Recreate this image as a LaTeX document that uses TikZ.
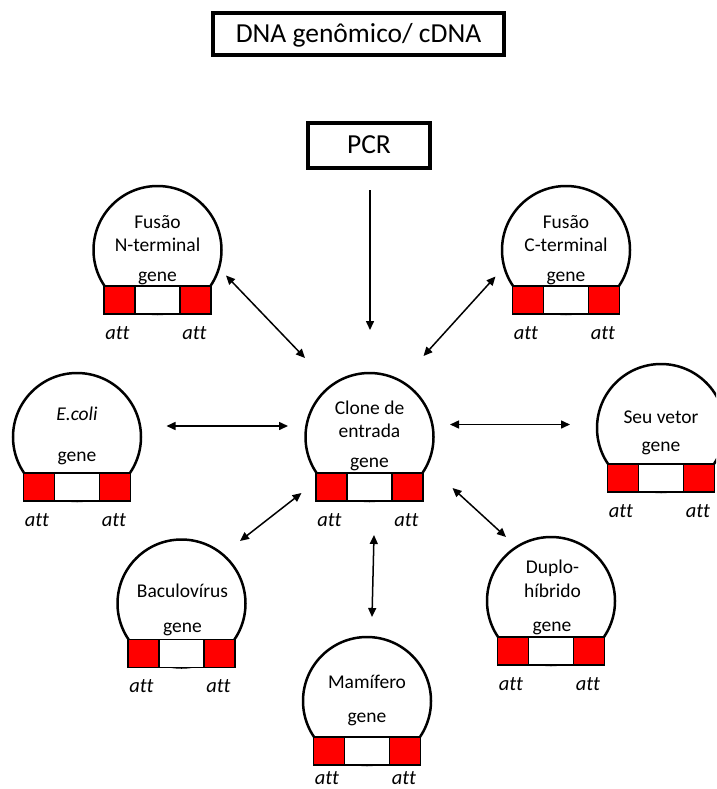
\documentclass[tikz,border=0pt]{standalone}
\usepackage{fontspec}
\setmainfont{Carlito}[Ligatures=NoCommon]
\usetikzlibrary{arrows.meta}
\tikzset{
  circ/.style={circle, draw, line width=2.5pt, fill=white, minimum size=128pt, inner sep=0pt},
  attred/.style={rectangle, draw, line width=1.3pt, fill=red, minimum width=31pt, minimum height=28pt, inner sep=0pt},
  attwhite/.style={rectangle, draw, line width=1.3pt, fill=white, minimum width=45pt, minimum height=28pt, inner sep=0pt},
  lbl/.style={anchor=base, inner sep=0pt, font=\fontsize{19.5}{23}\selectfont},
  attlbl/.style={anchor=base, inner sep=0pt, font=\fontsize{20.5}{24}\selectfont\itshape},
  titlebox/.style={draw, line width=4pt, inner sep=0pt, text height=17pt, text depth=0pt, font=\fontsize{27.5}{33}\selectfont},
  conn/.style={line width=1.5pt, -{Triangle[length=9pt,width=8pt]}},
  dconn/.style={line width=1.5pt, {Triangle[length=9pt,width=8pt]}-{Triangle[length=9pt,width=8pt]}},
}
\newcommand\plasmid[3]{%
  \node[circ] (#1) at (#2,#3) {};
  \node[attwhite] (#1M) at (#2,{#3+50}) {};
  \node[attred] (#1L) at ({#2-38},{#3+50}) {};
  \node[attred] (#1R) at ({#2+38},{#3+50}) {};
  \node[attlbl] (#1a) at ({#2-40},{#3+89}) {att};
  \node[attlbl] (#1b) at ({#2+37},{#3+89}) {att};
}
\begin{document}
\begin{tikzpicture}[x=1pt,y=-1pt]
\useasboundingbox (0,0) rectangle (716,789);
\clip (0,0) rectangle (716,789);
\fill[white] (0,0) rectangle (716,789);

% title boxes
\node[titlebox, minimum width=291pt, minimum height=42pt] (dna) at (358.5,34) {DNA genômico/ cDNA};
\node[titlebox, minimum width=122pt, minimum height=45.5pt] (pcr) at (369,145.3) {PCR};

% plasmids
\plasmid{nf}{157.5}{250}
\node[lbl] (nf1) at (157.5,228) {Fusão};
\node[lbl] (nf2) at (157.5,251) {N-terminal};
\node[lbl] (nfg) at (157.5,281) {gene};

\plasmid{cf}{566}{250}
\node[lbl] (cf1) at (566,228) {Fusão};
\node[lbl] (cf2) at (566,251) {C-terminal};
\node[lbl] (cfg) at (566,281) {gene};

\plasmid{ec}{77}{437}
\node[lbl] (ec1) at (77,420) {\itshape E.coli};
\node[lbl] (ecg) at (77,461) {gene};

\plasmid{ce}{369.5}{437}
\node[lbl] (ce1) at (369.5,414) {Clone de};
\node[lbl] (ce2) at (369.5,437.5) {entrada};
\node[lbl] (ceg) at (369.5,467) {gene};

\plasmid{sv}{661}{428}
\node[lbl] (sv1) at (661,423) {Seu vetor};
\node[lbl] (svg) at (661,451) {gene};

\plasmid{bv}{181.5}{603.5}
\node[lbl] (bv1) at (182.5,597) {Baculovírus};
\node[lbl] (bvg) at (182.5,632) {gene};

\plasmid{dh}{551}{601}
\node[lbl] (dh1) at (552.5,573) {Duplo-};
\node[lbl] (dh2) at (552.5,597) {híbrido};
\node[lbl] (dhg) at (552,631) {gene};

\node[circ] (mm) at (367,701) {};
\node[attwhite] (mmM) at (367,751) {};
\node[attred] (mmL) at (329,751) {};
\node[attred] (mmR) at (405,751) {};
\node[attlbl] (mma) at (327,784) {att};
\node[attlbl] (mmb) at (404,784) {att};
\node[lbl] (mm1) at (367,688) {Mamífero};
\node[lbl] (mmg) at (367,722) {gene};

% connector end points
\coordinate (pcrS) at (370,190);
\coordinate (pcrE) at (370,330);
\coordinate (nfA) at (226,275.5);
\coordinate (nfB) at (305,358);
\coordinate (cfA) at (495.5,276.5);
\coordinate (cfB) at (423.5,356);
\coordinate (ecA) at (166.5,426);
\coordinate (ecB) at (288,426);
\coordinate (svA) at (450,424.5);
\coordinate (svB) at (570,424.5);
\coordinate (bvA) at (301.5,493);
\coordinate (bvB) at (240,541);
\coordinate (dhA) at (452.5,488);
\coordinate (dhB) at (506,537);
\coordinate (mmA) at (374,535);
\coordinate (mmB) at (372,617);

\draw[conn] (pcrS) -- (pcrE);
\draw[dconn] (nfA) -- (nfB);
\draw[dconn] (cfA) -- (cfB);
\draw[dconn] (ecA) -- (ecB);
\draw[dconn] (svA) -- (svB);
\draw[dconn] (bvA) -- (bvB);
\draw[dconn] (dhA) -- (dhB);
\draw[dconn] (mmA) -- (mmB);
\end{tikzpicture}
\end{document}
